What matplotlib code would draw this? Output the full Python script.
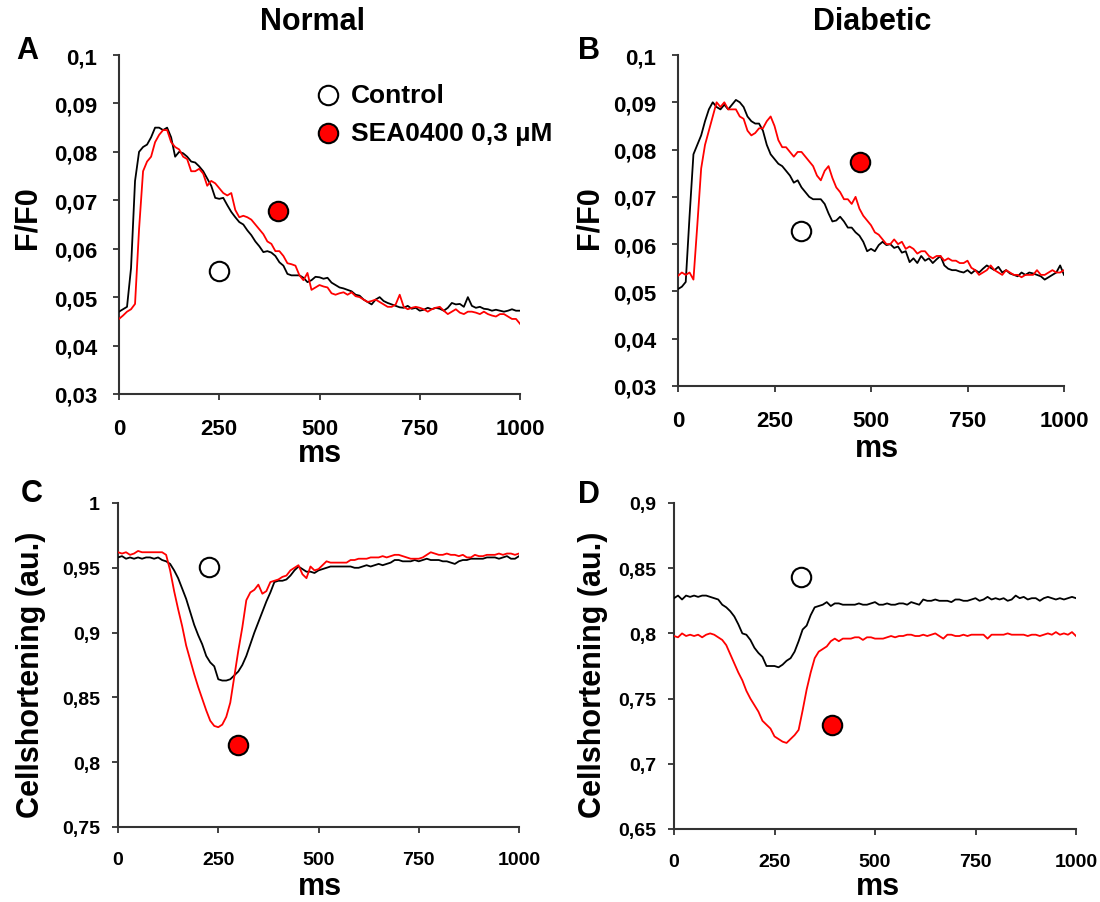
import numpy as np
import matplotlib
matplotlib.use("Agg")
import matplotlib.pyplot as plt
from matplotlib.ticker import FixedLocator, FixedFormatter

plt.rcParams['font.family'] = ['Liberation Sans', 'DejaVu Sans']
plt.rcParams['font.weight'] = 'bold'

# ---------------- data ----------------
time_ms = np.arange(0, 1001, 10)

# Panel A  (Normal, F/F0)
a_control = [0.0470, 0.0475, 0.0480, 0.0560, 0.0740, 0.0800, 0.0810, 0.0815, 0.0830, 0.0850,
             0.0850, 0.0845, 0.0850, 0.0830, 0.0790, 0.0800, 0.0797, 0.0790, 0.0780, 0.0778,
             0.0770, 0.0760, 0.0745, 0.0730, 0.0705, 0.0703, 0.0705, 0.0690, 0.0676, 0.0665,
             0.0655, 0.0650, 0.0638, 0.0628, 0.0615, 0.0605, 0.0593, 0.0595, 0.0592, 0.0585,
             0.0572, 0.0565, 0.0548, 0.0545, 0.0545, 0.0545, 0.0540, 0.0531, 0.0535, 0.0542,
             0.0541, 0.0538, 0.0540, 0.0530, 0.0525, 0.0520, 0.0518, 0.0515, 0.0512, 0.0505,
             0.0503, 0.0495, 0.0490, 0.0485, 0.0495, 0.0500, 0.0492, 0.0488, 0.0485, 0.0482,
             0.0479, 0.0478, 0.0482, 0.0476, 0.0478, 0.0472, 0.0474, 0.0478, 0.0475, 0.0478,
             0.0476, 0.0472, 0.0478, 0.0488, 0.0485, 0.0486, 0.0480, 0.0500, 0.0482, 0.0478,
             0.0480, 0.0476, 0.0475, 0.0472, 0.0474, 0.0472, 0.0470, 0.0472, 0.0475, 0.0472,
             0.0472]
a_sea = [0.0455, 0.0462, 0.0470, 0.0475, 0.0486, 0.0640, 0.0760, 0.0780, 0.0790, 0.0820,
         0.0835, 0.0845, 0.0845, 0.0820, 0.0810, 0.0805, 0.0790, 0.0785, 0.0760, 0.0760,
         0.0765, 0.0755, 0.0730, 0.0740, 0.0735, 0.0725, 0.0715, 0.0710, 0.0715, 0.0680,
         0.0665, 0.0668, 0.0665, 0.0660, 0.0650, 0.0640, 0.0630, 0.0615, 0.0610, 0.0595,
         0.0595, 0.0585, 0.0570, 0.0568, 0.0565, 0.0545, 0.0535, 0.0550, 0.0515, 0.0520,
         0.0525, 0.0522, 0.0520, 0.0508, 0.0505, 0.0508, 0.0510, 0.0505, 0.0510, 0.0502,
         0.0500, 0.0495, 0.0490, 0.0492, 0.0495, 0.0490, 0.0485, 0.0480, 0.0480, 0.0485,
         0.0505, 0.0480, 0.0475, 0.0478, 0.0480, 0.0478, 0.0475, 0.0470, 0.0475, 0.0478,
         0.0480, 0.0472, 0.0465, 0.0470, 0.0475, 0.0468, 0.0465, 0.0470, 0.0470, 0.0468,
         0.0465, 0.0470, 0.0465, 0.0462, 0.0460, 0.0465, 0.0465, 0.0460, 0.0455, 0.0455,
         0.0445]

# Panel B  (Diabetic, F/F0)
b_control = [0.0505, 0.0510, 0.0520, 0.0660, 0.0790, 0.0810, 0.0830, 0.0860, 0.0885, 0.0900,
             0.0890, 0.0885, 0.0895, 0.0885, 0.0895, 0.0905, 0.0900, 0.0890, 0.0870, 0.0860,
             0.0855, 0.0855, 0.0840, 0.0810, 0.0790, 0.0780, 0.0770, 0.0765, 0.0755, 0.0745,
             0.0730, 0.0735, 0.0720, 0.0710, 0.0700, 0.0695, 0.0695, 0.0695, 0.0685, 0.0665,
             0.0648, 0.0650, 0.0658, 0.0648, 0.0635, 0.0635, 0.0625, 0.0618, 0.0605, 0.0585,
             0.0590, 0.0585, 0.0598, 0.0605, 0.0598, 0.0600, 0.0592, 0.0595, 0.0582, 0.0585,
             0.0562, 0.0570, 0.0560, 0.0575, 0.0565, 0.0570, 0.0560, 0.0568, 0.0575, 0.0555,
             0.0548, 0.0545, 0.0545, 0.0542, 0.0540, 0.0545, 0.0538, 0.0545, 0.0540, 0.0548,
             0.0555, 0.0550, 0.0545, 0.0552, 0.0540, 0.0545, 0.0538, 0.0535, 0.0532, 0.0540,
             0.0535, 0.0540, 0.0538, 0.0535, 0.0532, 0.0525, 0.0530, 0.0535, 0.0540, 0.0555,
             0.0535]
b_sea = [0.0533, 0.0540, 0.0535, 0.0540, 0.0525, 0.0640, 0.0760, 0.0810, 0.0840, 0.0870,
         0.0900, 0.0890, 0.0900, 0.0885, 0.0885, 0.0885, 0.0870, 0.0865, 0.0840, 0.0830,
         0.0835, 0.0845, 0.0845, 0.0860, 0.0870, 0.0850, 0.0820, 0.0805, 0.0805, 0.0795,
         0.0785, 0.0795, 0.0795, 0.0785, 0.0775, 0.0765, 0.0745, 0.0735, 0.0755, 0.0765,
         0.0740, 0.0720, 0.0710, 0.0695, 0.0695, 0.0685, 0.0700, 0.0675, 0.0660, 0.0650,
         0.0640, 0.0625, 0.0620, 0.0610, 0.0600, 0.0600, 0.0610, 0.0600, 0.0605, 0.0590,
         0.0595, 0.0590, 0.0580, 0.0585, 0.0585, 0.0575, 0.0570, 0.0575, 0.0575, 0.0565,
         0.0570, 0.0565, 0.0565, 0.0560, 0.0560, 0.0565, 0.0550, 0.0545, 0.0535, 0.0540,
         0.0545, 0.0555, 0.0545, 0.0540, 0.0535, 0.0545, 0.0540, 0.0535, 0.0535, 0.0530,
         0.0535, 0.0535, 0.0535, 0.0545, 0.0535, 0.0535, 0.0540, 0.0545, 0.0540, 0.0540,
         0.0545]

# Panel C  (Normal, cell shortening)
c_control = [0.958, 0.959, 0.957, 0.958, 0.957, 0.958, 0.957, 0.958, 0.958, 0.957,
             0.958, 0.956, 0.955, 0.953, 0.948, 0.942, 0.934, 0.926, 0.916, 0.906,
             0.898, 0.891, 0.882, 0.877, 0.874, 0.864, 0.863, 0.863, 0.864, 0.867,
             0.870, 0.875, 0.882, 0.891, 0.900, 0.908, 0.916, 0.924, 0.931, 0.939,
             0.940, 0.940, 0.941, 0.944, 0.948, 0.951, 0.949, 0.947, 0.947, 0.946,
             0.948, 0.949, 0.950, 0.951, 0.951, 0.951, 0.951, 0.951, 0.951, 0.950,
             0.950, 0.951, 0.952, 0.951, 0.952, 0.953, 0.952, 0.953, 0.954, 0.956,
             0.956, 0.955, 0.955, 0.955, 0.956, 0.955, 0.956, 0.957, 0.956, 0.956,
             0.956, 0.955, 0.955, 0.954, 0.953, 0.955, 0.956, 0.956, 0.957, 0.957,
             0.957, 0.957, 0.958, 0.958, 0.958, 0.957, 0.958, 0.959, 0.957, 0.957,
             0.959]
c_sea = [0.962, 0.961, 0.962, 0.960, 0.961, 0.963, 0.962, 0.962, 0.962, 0.962,
         0.962, 0.962, 0.960, 0.948, 0.932, 0.918, 0.905, 0.890, 0.879, 0.868,
         0.858, 0.849, 0.840, 0.832, 0.828, 0.827, 0.829, 0.835, 0.846, 0.866,
         0.886, 0.904, 0.925, 0.931, 0.933, 0.937, 0.930, 0.932, 0.939, 0.940,
         0.941, 0.943, 0.944, 0.948, 0.950, 0.952, 0.945, 0.942, 0.951, 0.948,
         0.949, 0.952, 0.955, 0.954, 0.954, 0.954, 0.954, 0.954, 0.956, 0.956,
         0.957, 0.957, 0.957, 0.958, 0.958, 0.958, 0.959, 0.958, 0.959, 0.960,
         0.960, 0.959, 0.958, 0.957, 0.957, 0.957, 0.958, 0.960, 0.962, 0.961,
         0.960, 0.960, 0.961, 0.960, 0.960, 0.959, 0.960, 0.958, 0.958, 0.960,
         0.959, 0.959, 0.960, 0.960, 0.960, 0.961, 0.960, 0.961, 0.961, 0.960,
         0.961]

# Panel D  (Diabetic, cell shortening)
d_control = [0.827, 0.829, 0.826, 0.829, 0.828, 0.829, 0.828, 0.829, 0.829, 0.828,
             0.827, 0.826, 0.822, 0.820, 0.817, 0.813, 0.807, 0.800, 0.799, 0.795,
             0.789, 0.785, 0.782, 0.775, 0.775, 0.775, 0.774, 0.776, 0.779, 0.781,
             0.786, 0.794, 0.803, 0.806, 0.814, 0.820, 0.821, 0.822, 0.824, 0.821,
             0.823, 0.823, 0.822, 0.822, 0.822, 0.822, 0.823, 0.822, 0.822, 0.823,
             0.824, 0.822, 0.822, 0.823, 0.822, 0.822, 0.823, 0.823, 0.822, 0.824,
             0.823, 0.822, 0.826, 0.825, 0.825, 0.826, 0.825, 0.825, 0.825, 0.824,
             0.826, 0.826, 0.825, 0.825, 0.826, 0.827, 0.825, 0.826, 0.828, 0.826,
             0.827, 0.826, 0.827, 0.825, 0.826, 0.829, 0.827, 0.828, 0.826, 0.827,
             0.827, 0.825, 0.827, 0.828, 0.827, 0.826, 0.827, 0.826, 0.827, 0.828,
             0.827]
d_sea = [0.798, 0.797, 0.800, 0.798, 0.799, 0.798, 0.799, 0.797, 0.799, 0.800,
         0.799, 0.797, 0.795, 0.791, 0.784, 0.777, 0.770, 0.764, 0.756, 0.750,
         0.745, 0.740, 0.733, 0.730, 0.727, 0.721, 0.719, 0.717, 0.716, 0.719,
         0.722, 0.726, 0.741, 0.757, 0.770, 0.781, 0.786, 0.788, 0.790, 0.794,
         0.796, 0.794, 0.796, 0.796, 0.796, 0.797, 0.797, 0.795, 0.797, 0.797,
         0.796, 0.796, 0.796, 0.797, 0.798, 0.797, 0.798, 0.798, 0.799, 0.799,
         0.798, 0.798, 0.799, 0.798, 0.799, 0.800, 0.798, 0.796, 0.799, 0.799,
         0.798, 0.798, 0.799, 0.798, 0.799, 0.799, 0.799, 0.799, 0.796, 0.799,
         0.799, 0.799, 0.799, 0.800, 0.799, 0.799, 0.799, 0.799, 0.798, 0.799,
         0.799, 0.798, 0.799, 0.800, 0.799, 0.801, 0.799, 0.800, 0.799, 0.801,
         0.798]

# annotation circles (x ms, y value): control (open) and SEA0400 (filled)
marker_control = {'A': (250, 0.0555), 'B': (319, 0.0627), 'C': (227, 0.9506), 'D': (317, 0.8431)}
marker_sea = {'A': (397, 0.0678), 'B': (472, 0.0774), 'C': (300, 0.8135), 'D': (392, 0.7297)}

x_ticks = [0, 250, 500, 750, 1000]
x_ticklabels = ['0', '250', '500', '750', '1000']
ff0_ticks = [0.03, 0.04, 0.05, 0.06, 0.07, 0.08, 0.09, 0.10]
ff0_ticklabels = ['0,03', '0,04', '0,05', '0,06', '0,07', '0,08', '0,09', '0,1']
c_ticks = [0.75, 0.80, 0.85, 0.90, 0.95, 1.00]
c_ticklabels = ['0,75', '0,8', '0,85', '0,9', '0,95', '1']
d_ticks = [0.65, 0.70, 0.75, 0.80, 0.85, 0.90]
d_ticklabels = ['0,65', '0,7', '0,75', '0,8', '0,85', '0,9']

titles = ['Normal', 'Diabetic']
legend_labels = ['Control', 'SEA0400 0,3 µM']

# ---------------- figure ----------------
W, H = 1100, 903
fig = plt.figure(figsize=(W / 100, H / 100), dpi=100)
fig.patch.set_facecolor('white')


def px_axes(x0, x1, ytop, ybot):
    return fig.add_axes([x0 / W, 1 - ybot / H, (x1 - x0) / W, (ybot - ytop) / H])


axA = px_axes(119, 520, 56, 395)
axB = px_axes(678, 1064, 56, 387)
axC = px_axes(118, 519, 504, 828)
axD = px_axes(674, 1076, 504, 830)

spine_col = '#333333'
RED = '#ff0000'

panels = [
    (axA, a_control, a_sea, (0.03, 0.10), ff0_ticks, ff0_ticklabels, 'A', 16, 11.0),
    (axB, b_control, b_sea, (0.03, 0.10), ff0_ticks, ff0_ticklabels, 'B', 16, 11.0),
    (axC, c_control, c_sea, (0.75, 1.00), c_ticks, c_ticklabels, 'C', 14, 8.5),
    (axD, d_control, d_sea, (0.65, 0.90), d_ticks, d_ticklabels, 'D', 14, 8.0),
]

for ax, ctrl, sea, ylim, yt, ytl, key, tfs, ypad in panels:
    ax.plot(time_ms, ctrl, color='black', lw=1.3, zorder=3)
    ax.plot(time_ms, sea, color=RED, lw=1.3, zorder=4)
    mx, my = marker_control[key]
    ax.plot([mx], [my], 'o', ms=14, mfc='white', mec='black', mew=1.5, zorder=5, clip_on=False)
    mx, my = marker_sea[key]
    ax.plot([mx], [my], 'o', ms=14, mfc=RED, mec='black', mew=1.5, zorder=5, clip_on=False)
    ax.set_xlim(0, 1000)
    ax.set_ylim(*ylim)
    ax.xaxis.set_major_locator(FixedLocator(x_ticks))
    ax.xaxis.set_major_formatter(FixedFormatter(x_ticklabels))
    ax.yaxis.set_major_locator(FixedLocator(yt))
    ax.yaxis.set_major_formatter(FixedFormatter(ytl))
    for s in ['top', 'right']:
        ax.spines[s].set_visible(False)
    for s in ['left', 'bottom']:
        ax.spines[s].set_color(spine_col)
        ax.spines[s].set_linewidth(1.5)
    ax.tick_params(axis='both', direction='out', length=4.5, width=1.3, color=spine_col,
                   labelsize=tfs)
    ax.tick_params(axis='y', pad=ypad)
    ax.tick_params(axis='x', pad=13.0)
    for lab in ax.get_xticklabels() + ax.get_yticklabels():
        lab.set_fontweight('bold')
    ax.set_facecolor('none')


def fig_text(x, y, s, va='center', **kw):
    fig.text(x / W, 1 - y / H, s, ha='center', va=va, fontweight='bold', **kw)


# y-axis labels
fig_text(27, 218, 'F/F0', fontsize=22, rotation=90)
fig_text(590, 218, 'F/F0', fontsize=22, rotation=90)
fig_text(31, 675, 'Cellshortening (au.)', fontsize=22, rotation=90)
fig_text(593, 675, 'Cellshortening (au.)', fontsize=22, rotation=90)

# x-axis labels (baseline positions)
fig_text(320, 462, 'ms', va='baseline', fontsize=22)
fig_text(877, 457, 'ms', va='baseline', fontsize=22)
fig_text(320, 895, 'ms', va='baseline', fontsize=22)
fig_text(878, 895, 'ms', va='baseline', fontsize=22)

# column titles
fig_text(313, 22, titles[0], fontsize=22)
fig_text(872, 22, titles[1], fontsize=22)

# panel letters
fig_text(27, 51, 'A', fontsize=22)
fig_text(589, 51, 'B', fontsize=22)
fig_text(32, 494, 'C', fontsize=22)
fig_text(589, 495, 'D', fontsize=22)

# legend (in panel A)
leg_x = (328 - 119) / 401
for yy, fc, lab in [((395 - 96) / 339, 'white', legend_labels[0]),
                    ((395 - 134) / 339, RED, legend_labels[1])]:
    axA.plot([leg_x], [yy], 'o', ms=14, mfc=fc, mec='black', mew=1.5,
             transform=axA.transAxes, clip_on=False, zorder=6)
    axA.text((351 - 119) / 401, yy, lab, transform=axA.transAxes, ha='left', va='center',
             fontsize=19, fontweight='bold')

fig.savefig('out.png', dpi=100, facecolor='white')
